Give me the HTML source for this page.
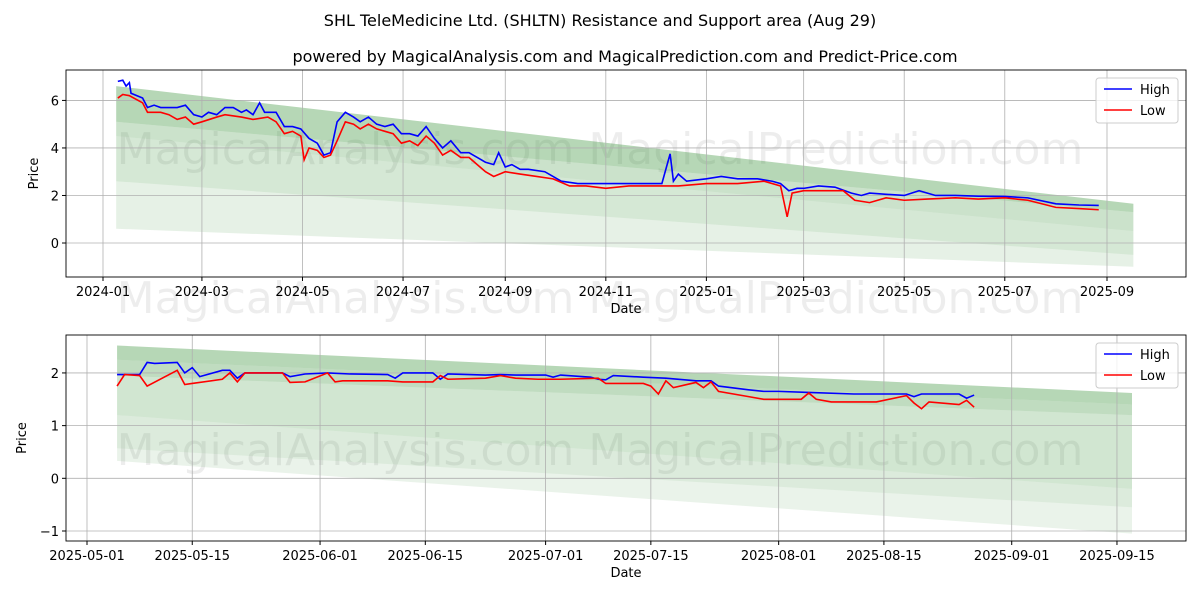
<!DOCTYPE html>
<html><head><meta charset="utf-8"><style>
body{margin:0;background:#fff;}
svg{font-family:"DejaVu Sans","Liberation Sans",sans-serif;}
</style></head><body>
<svg id="fig" width="1200" height="600" xmlns="http://www.w3.org/2000/svg">
<rect width="1200" height="600" fill="#fff"/>
<text x="600" y="26" text-anchor="middle" font-size="16">SHL TeleMedicine Ltd. (SHLTN) Resistance and Support area (Aug 29)</text>
<text x="625" y="62" text-anchor="middle" font-size="16">powered by MagicalAnalysis.com and MagicalPrediction.com and Predict-Price.com</text>
<text x="600" y="313" text-anchor="middle" font-size="44" fill="#000" fill-opacity="0.07">MagicalAnalysis.com    MagicalPrediction.com</text>
<g id="top"></g>
<g id="bot"></g>
</svg>
<script>
const topHighDates=["2024-01-10","2024-01-13","2024-01-15","2024-01-17","2024-01-18","2024-01-25","2024-01-28","2024-02-01","2024-02-05","2024-02-15","2024-02-20","2024-02-25","2024-03-01","2024-03-05","2024-03-10","2024-03-15","2024-03-20","2024-03-25","2024-03-28","2024-04-01","2024-04-05","2024-04-08","2024-04-15","2024-04-20","2024-04-25","2024-04-30","2024-05-05","2024-05-10","2024-05-14","2024-05-18","2024-05-22","2024-05-27","2024-06-01","2024-06-05","2024-06-10","2024-06-15","2024-06-20","2024-06-25","2024-06-30","2024-07-05","2024-07-10","2024-07-15","2024-07-20","2024-07-25","2024-07-30","2024-08-05","2024-08-10","2024-08-15","2024-08-20","2024-08-25","2024-08-28","2024-09-01","2024-09-05","2024-09-10","2024-09-15","2024-09-25","2024-10-05","2024-10-15","2024-10-25","2024-11-05","2024-11-15","2024-11-25","2024-12-05","2024-12-10","2024-12-12","2024-12-15","2024-12-20","2025-01-01","2025-01-10","2025-01-20","2025-02-01","2025-02-10","2025-02-15","2025-02-20","2025-02-25","2025-03-01","2025-03-10","2025-03-20","2025-03-30","2025-04-05","2025-04-10","2025-04-20","2025-05-01","2025-05-10","2025-05-20","2025-06-01","2025-06-15","2025-07-01","2025-07-15","2025-08-01","2025-08-15","2025-08-27"];
const topHigh=[6.8,6.85,6.6,6.75,6.3,6.1,5.7,5.8,5.7,5.7,5.8,5.4,5.3,5.5,5.4,5.7,5.7,5.5,5.6,5.4,5.9,5.5,5.5,4.9,4.9,4.8,4.4,4.2,3.7,3.8,5.1,5.5,5.3,5.1,5.3,5.0,4.9,5.0,4.6,4.6,4.5,4.9,4.4,4.0,4.3,3.8,3.8,3.6,3.4,3.3,3.8,3.2,3.3,3.1,3.1,3.0,2.6,2.5,2.5,2.5,2.5,2.5,2.5,3.75,2.6,2.9,2.6,2.7,2.8,2.7,2.7,2.6,2.5,2.2,2.3,2.3,2.4,2.35,2.1,2.0,2.1,2.05,2.0,2.2,2.0,2.0,1.97,1.96,1.9,1.65,1.6,1.58];
const topLowDates=["2024-01-10","2024-01-13","2024-01-17","2024-01-25","2024-01-28","2024-02-05","2024-02-10","2024-02-15","2024-02-20","2024-02-25","2024-03-01","2024-03-10","2024-03-15","2024-03-25","2024-04-01","2024-04-10","2024-04-15","2024-04-20","2024-04-25","2024-04-30","2024-05-02","2024-05-05","2024-05-10","2024-05-14","2024-05-18","2024-05-22","2024-05-27","2024-06-01","2024-06-05","2024-06-10","2024-06-15","2024-06-20","2024-06-25","2024-06-30","2024-07-05","2024-07-10","2024-07-15","2024-07-20","2024-07-25","2024-07-30","2024-08-05","2024-08-10","2024-08-15","2024-08-20","2024-08-25","2024-09-01","2024-09-10","2024-09-20","2024-09-30","2024-10-10","2024-10-20","2024-11-01","2024-11-15","2024-12-01","2024-12-15","2025-01-01","2025-01-20","2025-02-05","2025-02-15","2025-02-19","2025-02-22","2025-03-01","2025-03-15","2025-03-25","2025-04-01","2025-04-10","2025-04-20","2025-05-01","2025-05-15","2025-06-01","2025-06-15","2025-07-01","2025-07-15","2025-08-01","2025-08-15","2025-08-27"];
const topLow=[6.1,6.25,6.2,5.9,5.5,5.5,5.4,5.2,5.3,5.0,5.1,5.3,5.4,5.3,5.2,5.3,5.1,4.6,4.7,4.5,3.5,4.0,3.9,3.6,3.7,4.3,5.1,5.0,4.8,5.0,4.8,4.7,4.6,4.2,4.3,4.1,4.5,4.2,3.7,3.9,3.6,3.6,3.3,3.0,2.8,3.0,2.9,2.8,2.7,2.4,2.4,2.3,2.4,2.4,2.4,2.5,2.5,2.6,2.4,1.1,2.1,2.2,2.2,2.2,1.8,1.7,1.9,1.8,1.85,1.9,1.85,1.9,1.8,1.5,1.45,1.4];
const botHighDates=["2025-05-05","2025-05-08","2025-05-09","2025-05-10","2025-05-13","2025-05-14","2025-05-15","2025-05-16","2025-05-19","2025-05-20","2025-05-21","2025-05-22","2025-05-27","2025-05-28","2025-05-30","2025-06-02","2025-06-05","2025-06-10","2025-06-11","2025-06-12","2025-06-16","2025-06-17","2025-06-18","2025-06-23","2025-06-25","2025-06-27","2025-07-01","2025-07-02","2025-07-03","2025-07-07","2025-07-08","2025-07-09","2025-07-10","2025-07-14","2025-07-17","2025-07-21","2025-07-23","2025-07-24","2025-07-28","2025-07-30","2025-08-01","2025-08-05","2025-08-11","2025-08-18","2025-08-19","2025-08-20","2025-08-25","2025-08-26","2025-08-27"];
const botHigh=[1.97,1.97,2.2,2.18,2.2,2.0,2.1,1.93,2.05,2.05,1.9,2.0,2.0,1.93,1.98,2.0,1.98,1.97,1.9,2.0,2.0,1.88,1.98,1.96,1.97,1.96,1.96,1.92,1.96,1.92,1.88,1.87,1.95,1.92,1.9,1.85,1.85,1.75,1.68,1.65,1.65,1.63,1.6,1.6,1.55,1.6,1.6,1.52,1.58];
const botLowDates=["2025-05-05","2025-05-06","2025-05-08","2025-05-09","2025-05-13","2025-05-14","2025-05-15","2025-05-19","2025-05-20","2025-05-21","2025-05-22","2025-05-27","2025-05-28","2025-05-30","2025-06-02","2025-06-03","2025-06-04","2025-06-10","2025-06-12","2025-06-16","2025-06-17","2025-06-18","2025-06-23","2025-06-25","2025-06-27","2025-06-30","2025-07-03","2025-07-08","2025-07-09","2025-07-14","2025-07-15","2025-07-16","2025-07-17","2025-07-18","2025-07-21","2025-07-22","2025-07-23","2025-07-24","2025-07-28","2025-07-30","2025-08-04","2025-08-05","2025-08-06","2025-08-08","2025-08-14","2025-08-18","2025-08-19","2025-08-20","2025-08-21","2025-08-25","2025-08-26","2025-08-27"];
const botLow=[1.75,1.97,1.95,1.75,2.05,1.78,1.8,1.88,2.0,1.83,2.0,2.0,1.82,1.83,2.0,1.83,1.85,1.85,1.83,1.83,1.95,1.88,1.9,1.95,1.9,1.88,1.88,1.9,1.8,1.8,1.75,1.6,1.85,1.72,1.82,1.72,1.83,1.65,1.55,1.5,1.5,1.62,1.5,1.45,1.45,1.57,1.43,1.32,1.45,1.4,1.48,1.35];
const topBandStart=[6.6,5.1,4.5,2.6,0.6];
const topBandEnd=[1.65,1.3,0.5,-0.5,-1.0];
const botBandStart=[2.52,2.25,1.95,1.2,0.57,0.33];
const botBandEnd=[1.62,1.4,1.2,-0.2,-0.55,-1.05];
const topYTicks=[0,2,4,6];
const topXTicks=["2024-01","2024-03","2024-05","2024-07","2024-09","2024-11","2025-01","2025-03","2025-05","2025-07","2025-09"];
const botYTicks=[-1,0,1,2];
const botXTicks=["2025-05-01","2025-05-15","2025-06-01","2025-06-15","2025-07-01","2025-07-15","2025-08-01","2025-08-15","2025-09-01","2025-09-15"];

const NS="http://www.w3.org/2000/svg";
function mk(parent,tag,attrs,text){const e=document.createElementNS(NS,tag);for(const k in attrs)e.setAttribute(k,attrs[k]);if(text!==undefined)e.textContent=text;parent.appendChild(e);return e;}
const day=s=>Date.parse(s+(s.length===7?"-01":"")+"T00:00:00Z")/86400000;

function drawChart(g,cfg){
  const {L,R,T,B,x0d,x1d,ymin,ymax}=cfg;
  const X=d=>L+(day(d)-x0d)/(x1d-x0d)*(R-L);
  const Y=v=>B-(v-ymin)/(ymax-ymin)*(B-T);
  const w1=mk(g,'text',{x:600,y:cfg.wmy,'text-anchor':'middle','font-size':44,fill:'#000','fill-opacity':0.07},'MagicalAnalysis.com    MagicalPrediction.com');
  
  
  const bs=cfg.bs,be=cfg.be,xs=X(cfg.bandStart),xe=X(cfg.bandEnd);
  for(let i=0;i<bs.length-1;i++){
    const p=mk(g,'polygon',{points:`${xs},${Y(bs[i])} ${xe},${Y(be[i])} ${xe},${Y(be[i+1])} ${xs},${Y(bs[i+1])}`,fill:'#2e8b2e','fill-opacity':cfg.alphas[i]});
    
    
  }
  cfg.yt.forEach(v=>{const y=Y(v);
    mk(g,'line',{x1:L,x2:R,y1:y,y2:y,stroke:'#b0b0b0','stroke-width':0.8});
    mk(g,'line',{x1:L-4,x2:L,y1:y,y2:y,stroke:'#000'});
    const t=mk(g,'text',{x:L-7,y:y+5,'text-anchor':'end','font-size':13},v<0?'\u2212'+(-v):v);
    
    });
  cfg.xt.forEach(d=>{const x=X(d);
    mk(g,'line',{x1:x,x2:x,y1:T,y2:B,stroke:'#b0b0b0','stroke-width':0.8});
    mk(g,'line',{x1:x,x2:x,y1:B,y2:B+4,stroke:'#000'});
    const t=mk(g,'text',{x:x,y:B+19,'text-anchor':'middle','font-size':13},d);
    
    });
  const line=(ds,vs,c,n)=>{const p=mk(g,'polyline',{points:ds.map((d,i)=>X(d)+','+Y(vs[i])).join(' '),fill:'none',stroke:c,'stroke-width':1.6});
    
    };
  line(cfg.hd,cfg.hv,'#0000ff','high-line');
  line(cfg.ld,cfg.lv,'#ff0000','low-line');
  mk(g,'rect',{x:L,y:T,width:R-L,height:B-T,fill:'none',stroke:'#000','stroke-width':0.9});
  const xl=mk(g,'text',{x:(L+R)/2,y:B+36,'text-anchor':'middle','font-size':13},'Date');
  
  
  const yl=mk(g,'text',{x:cfg.ylx,y:(T+B)/2,'text-anchor':'middle','font-size':13,transform:`rotate(-90 ${cfg.ylx} ${(T+B)/2})`},'Price');
  
  
  const lg=mk(g,'g',{});
  
  
  const lx=R-90,ly=T+8;
  mk(lg,'rect',{x:lx,y:ly,width:82,height:45,rx:3,fill:'#fff','fill-opacity':0.8,stroke:'#ccc'});
  [['High','#0000ff'],['Low','#ff0000']].forEach((e,i)=>{const yy=ly+11+i*21;
    mk(lg,'line',{x1:lx+8,x2:lx+36,y1:yy,y2:yy,stroke:e[1],'stroke-width':1.6});
    const t=mk(lg,'text',{x:lx+44,y:yy+5,'font-size':13},e[0]);
    
    });
}
drawChart(document.getElementById('top'),{L:66,R:1186,T:70,B:277,x0d:day("2024-01-01")-(103-66)/1.6486,x1d:day("2024-01-01")+(1186-103)/1.6486,ymin:-1.43,ymax:7.28,
  bs:topBandStart,be:topBandEnd,bandStart:"2024-01-09",bandEnd:"2025-09-17",alphas:[0.35,0.25,0.2,0.12],wmy:164,
  yt:topYTicks,xt:topXTicks,hd:topHighDates,hv:topHigh,ld:topLowDates,lv:topLow,ylx:38});
drawChart(document.getElementById('bot'),{L:66,R:1186,T:335,B:541,x0d:day("2025-05-01")-(87-66)/7.518,x1d:day("2025-05-01")+(1186-87)/7.518,ymin:-1.19,ymax:2.72,
  bs:botBandStart,be:botBandEnd,bandStart:"2025-05-05",bandEnd:"2025-09-17",alphas:[0.35,0.3,0.22,0.17,0.1],wmy:465,
  yt:botYTicks,xt:botXTicks,hd:botHighDates,hv:botHigh,ld:botLowDates,lv:botLow,ylx:26});
</script>
</body></html>
